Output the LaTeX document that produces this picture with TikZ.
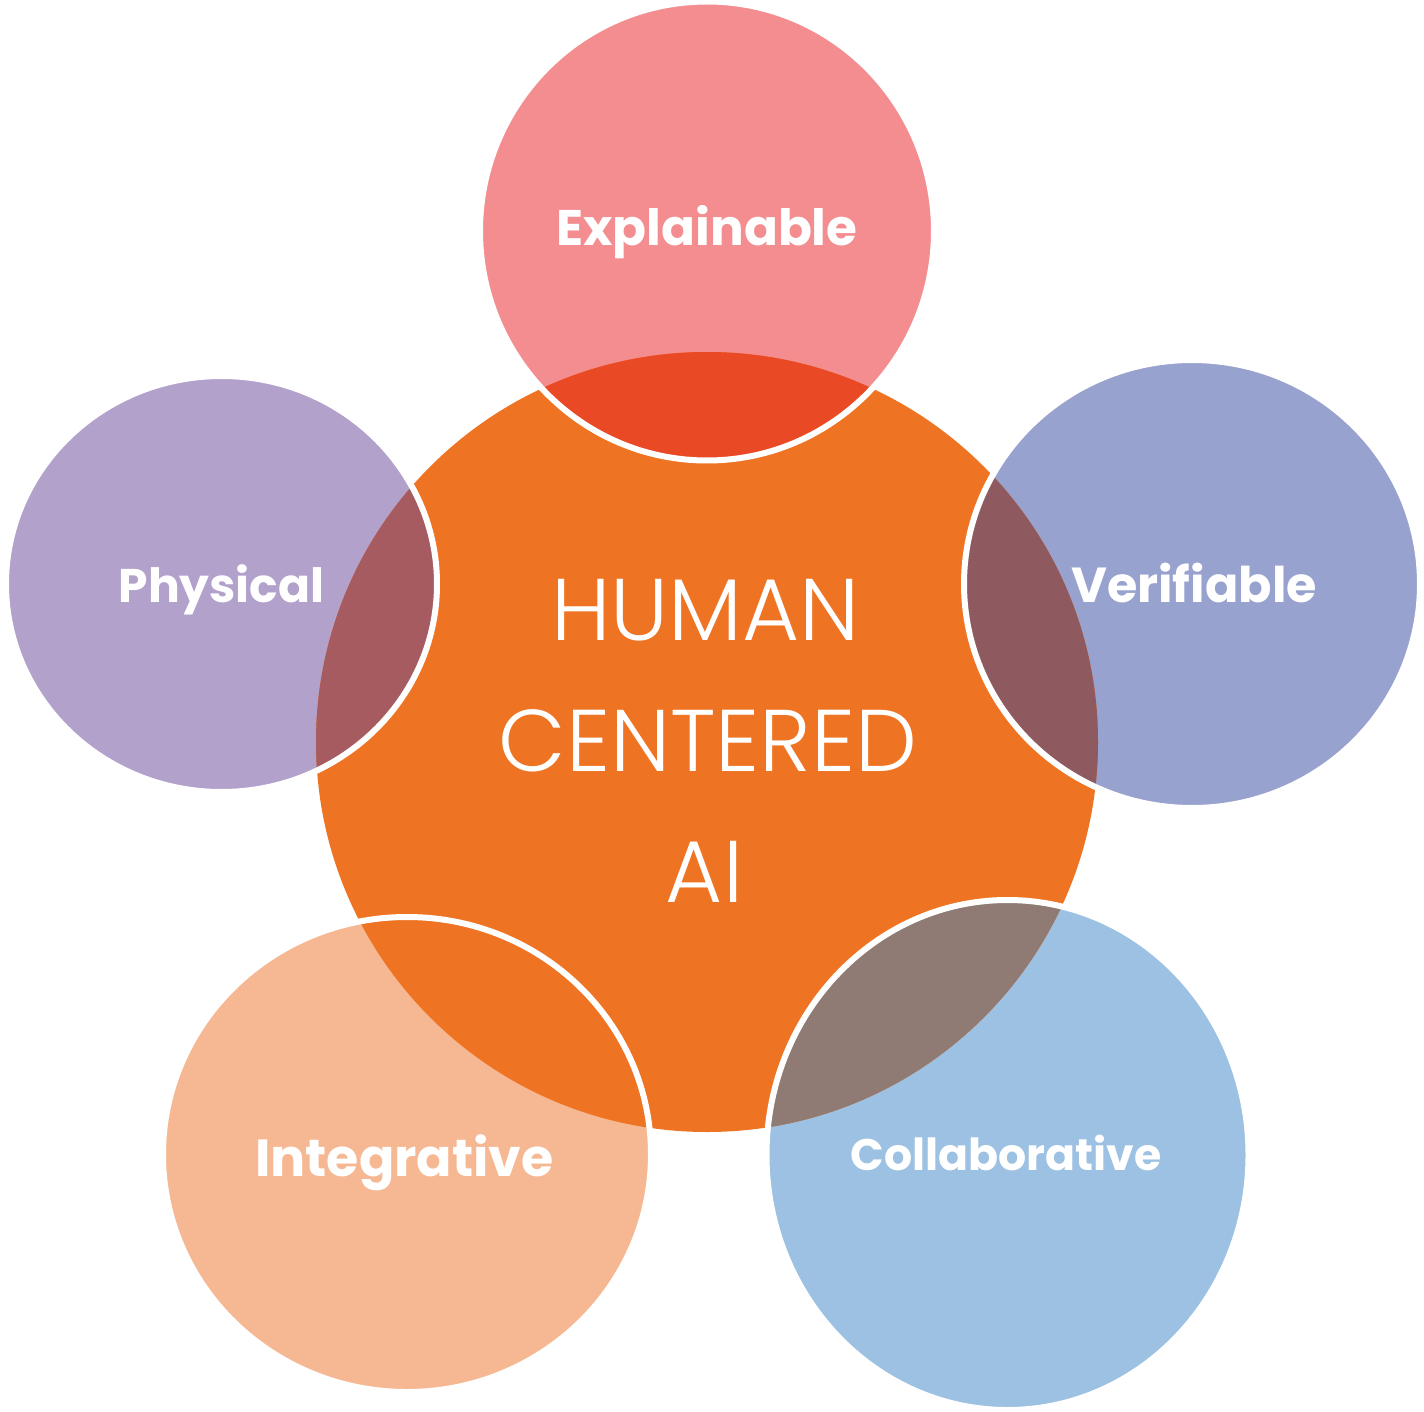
\documentclass[tikz,border=0pt]{standalone}
\usepackage{fontspec}
\setmainfont{Poppins}
\newfontfamily\lightfont{Poppins Light}
\definecolor{corecol}{HTML}{EE7423}
\definecolor{explcol}{HTML}{F38D90}
\definecolor{physcol}{HTML}{B1A1CB}
\definecolor{vericol}{HTML}{98A2CE}
\definecolor{integcol}{HTML}{F6B892}
\definecolor{collcol}{HTML}{9CC1E2}
\definecolor{explov}{HTML}{E94A25}
\definecolor{physov}{HTML}{A55B5F}
\definecolor{veriov}{HTML}{8F5A5F}
\definecolor{collov}{HTML}{8F7B74}
\tikzset{
  rim/.style={draw=white, line width=3},
  label/.style={text=white, font=\bfseries, anchor=base, inner sep=0},
  coretext/.style={text=white, anchor=base, inner sep=0, font=\lightfont\fontsize{43.8}{43.8}\selectfont}
}
\begin{document}
\begin{tikzpicture}[x=0.5pt,y=-0.5pt]
\useasboundingbox (0,0) rectangle (1424,1412);
\def\explpath{(707,231) ellipse [x radius=227, y radius=229.5]}
\def\physpath{(221.5,584) ellipse [x radius=215.5, y radius=208]}
\def\veripath{(1192,584) ellipse [x radius=228, y radius=224]}
\def\integpath{(407,1154.5) ellipse [x radius=244, y radius=237.5]}
\def\collpath{(1007.5,1155) ellipse [x radius=241, y radius=255]}
\def\corepath{(707,742) ellipse [x radius=391, y radius=390]}
\fill[explcol] \explpath;
\fill[physcol] \physpath;
\fill[vericol] \veripath;
\fill[integcol] \integpath;
\fill[collcol] \collpath;
\fill[corecol] \corepath;
\begin{scope}\clip \explpath; \fill[explov] \corepath; \end{scope}
\begin{scope}\clip \physpath; \fill[physov] \corepath; \end{scope}
\begin{scope}\clip \veripath; \fill[veriov] \corepath; \end{scope}
\begin{scope}\clip \collpath; \fill[collov] \corepath; \end{scope}
\draw[rim] \explpath;
\draw[rim] \physpath;
\draw[rim] \veripath;
\draw[rim] \integpath;
\draw[rim] \collpath;
\node[label, font=\bfseries\fontsize{25}{25}\selectfont] (expl) at (707,246) {Explainable};
\node[label, font=\bfseries\fontsize{23.6}{23.6}\selectfont] (phys) at (221.5,602) {Physical};
\node[label, font=\bfseries\fontsize{24.6}{24.6}\selectfont] (veri) at (1194,602) {Verifiable};
\node[label, font=\bfseries\fontsize{26.1}{26.1}\selectfont] (integ) at (404.5,1176) {Integrative};
\node[label, font=\bfseries\fontsize{22.1}{22.1}\selectfont] (coll) at (1006,1170) {Collaborative};
\node[coretext] (l1) at (705.5,640) {HUMAN};
\node[coretext] (l2) at (708,771) {CENTERED};
\node[coretext] (l3) at (704.5,902) {AI};
\end{tikzpicture}
\end{document}
